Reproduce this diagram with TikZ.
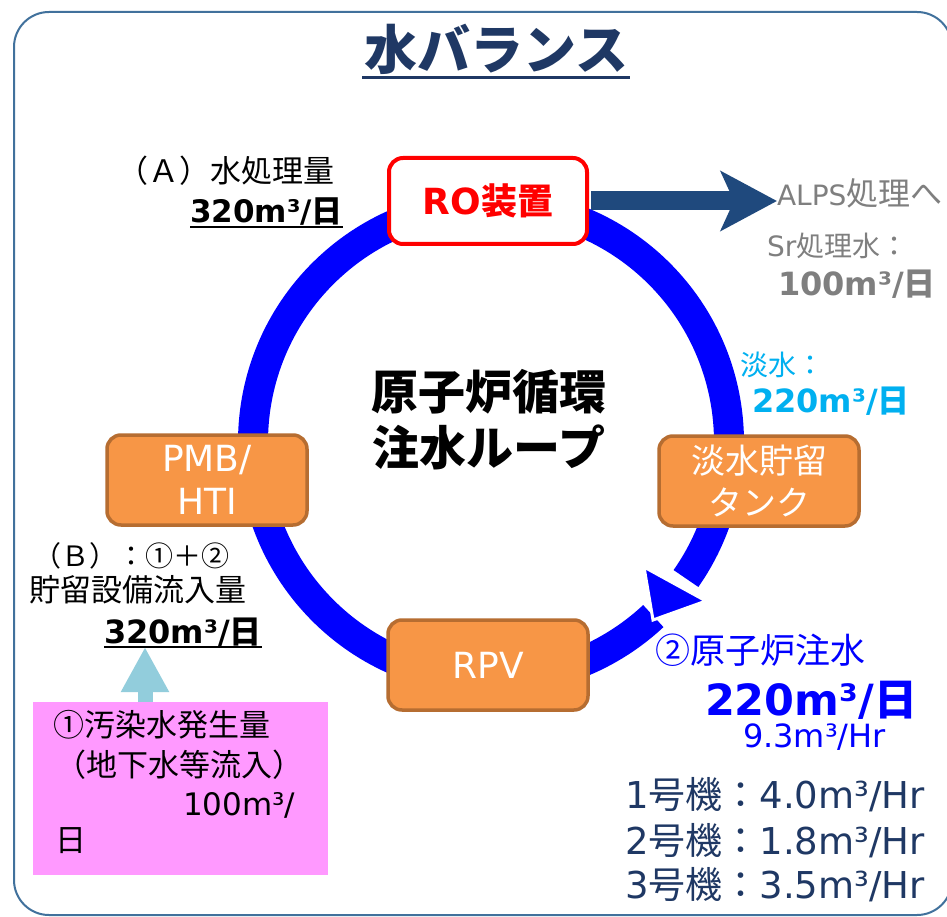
\documentclass[tikz,border=0pt]{standalone}
\usepackage{fontspec}
\setmainfont{DejaVu Sans}
\newfontfamily\jp{Noto Sans CJK JP}
\usetikzlibrary{arrows.meta,calc}
\definecolor{navy}{HTML}{1F3864}
\definecolor{framecol}{HTML}{41719C}
\definecolor{darkarrow}{HTML}{1F497D}
\definecolor{grayt}{HTML}{7F7F7F}
\definecolor{cyant}{HTML}{00B0F0}
\definecolor{orfill}{HTML}{F79646}
\definecolor{orborder}{HTML}{B66D31}
\definecolor{pinkfill}{HTML}{FF99FF}
\definecolor{lblue}{HTML}{92CDDC}
\definecolor{ringblue}{HTML}{0000FF}
\newcommand\fs[1]{\fontsize{#1}{#1}\selectfont}
\tikzset{
  txt/.style={inner sep=0pt, outer sep=0pt, anchor=base west},
  obox/.style={fill=orfill, draw=orborder, line width=3.5pt, rounded corners=14pt,
    minimum width=200pt, minimum height=90pt, text=white, align=center, inner sep=0pt},
  robox/.style={fill=white, draw=red, line width=4pt, rounded corners=14pt,
    minimum width=198pt, minimum height=86pt, text=red, inner sep=0pt},
  darrow/.style={darkarrow, line width=19pt, -{Stealth[length=56pt,width=59pt,inset=13pt]}},
  lbarrow/.style={lblue, line width=15pt, -{Triangle[length=45pt,width=45pt]}},
  uline/.style={line width=2pt}
}
\begin{document}
\begin{tikzpicture}[x=1pt,y=-1pt]
\useasboundingbox (0,0) rectangle (947,917);
\fill[white] (0,0) rectangle (947,917);
% frame
\draw[framecol, line width=2pt, rounded corners=35pt] (14,12) rectangle (952,915);
% title
\node[txt, anchor=base, text=navy] (title) at (496,70) {\fs{53}\jp\bfseries 水バランス};
\draw[navy, line width=3pt] ($(title.base west)+(-2,8)$) -- ($(title.base east)+(2,8)$);
% ring
\draw[ringblue, line width=30pt] (491,442) ++(47:238) arc[start angle=47, end angle=395, radius=238];
\filldraw[fill=ringblue, draw=white, line width=3pt, line join=miter] (644,567) -- (706,601) -- (653,620) -- cycle;
% boxes
\node[robox] (ro) at (488,201) {\fs{36}\bfseries RO{\jp 装置}};
\node[obox, font=\fontsize{36}{43}\selectfont] (pmb) at (207,480) {PMB/\\HTI};
\node[obox, font=\fontsize{34}{42}\selectfont\jp] (tank) at (759,481) {淡水貯留\\タンク};
\node[obox, font=\fs{36}] (rpv) at (488,665) {RPV};
% center text
\node[inner sep=0pt, align=center, font=\fontsize{47}{56}\selectfont\jp\bfseries] (loop) at (489,420) {原子炉循環\\注水ループ};
% top-left labels
\node[txt] (aA) at (117,183) {\fs{31}\jp （Ａ）水処理量};
\node[txt] (a320) at (190,223) {\fs{31}\bfseries 320m³/{\jp 日}};
\draw[uline] ($(a320.base west)+(0,4)$) -- ($(a320.base east)+(0,4)$);
% right labels
\node[txt, text=grayt] (alps) at (777,206) {\fs{28}ALPS{\jp\fs{32}処理へ}};
\draw[darrow] ([xshift=2pt]ro.east) -- (ro.east -| alps.west);
\node[txt, text=grayt] (sr) at (767,257) {\fs{28}Sr{\jp 処理水：}};
\node[txt, text=grayt] (s100) at (778,295) {\fs{32}\bfseries 100m³/{\jp 日}};
\node[txt, text=cyant] (fw) at (740,375) {\fs{28}\jp 淡水：};
\node[txt, text=cyant] (fw220) at (752,412) {\fs{32}\bfseries 220m³/{\jp 日}};
% left-bottom labels
\node[txt] (bB) at (33,566) {\fs{28}\jp （Ｂ）：①＋②};
\node[txt] (bstore) at (29,601) {\fs{31}\jp 貯留設備流入量};
\node[txt] (b320) at (104,643) {\fs{32}\bfseries 320m³/{\jp 日}};
\draw[uline] ($(b320.base west)+(0,4)$) -- ($(b320.base east)+(0,4)$);
% pink box
\node[fill=pinkfill, minimum width=295pt, minimum height=173pt, inner sep=0pt] (pink) at (180.5,788.5) {};
\coordinate (lbstart) at (145,702);
\coordinate (lbtip) at (145,647);
\draw[lbarrow] (lbstart) -- (lbtip);
\node[txt] (p1) at (53,736) {\fs{31}\jp ①汚染水発生量};
\node[txt] (p2) at (55,776) {\fs{31}\jp （地下水等流入）};
\node[txt] (p3) at (183,815) {\fs{31}100m³/};
\node[txt] (p4) at (55,851) {\fs{31}\jp 日};
% injection
\node[txt, text=ringblue] (inj) at (655,663) {\fs{35}\jp ②原子炉注水};
\node[txt, text=ringblue] (inj220) at (705,715) {\fs{43}\bfseries 220m³/{\jp 日}};
\node[txt, text=ringblue] (inj93) at (743,747) {\fs{32}9.3m³/Hr};
\node[txt, text=navy] (u1) at (625,808) {\fs{37}1{\jp 号機：}4.0m³/Hr};
\node[txt, text=navy] (u2) at (625,854) {\fs{37}2{\jp 号機：}1.8m³/Hr};
\node[txt, text=navy] (u3) at (625,898) {\fs{37}3{\jp 号機：}3.5m³/Hr};
\end{tikzpicture}
\end{document}
